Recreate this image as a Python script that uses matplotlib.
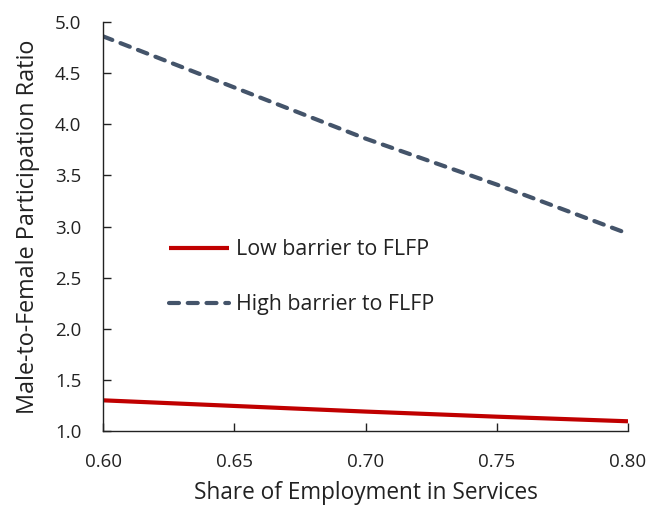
import matplotlib
matplotlib.use("Agg")
import matplotlib.pyplot as plt

share = [0.60, 0.65, 0.70, 0.75, 0.80]
low_barrier = [1.30, 1.245, 1.19, 1.14, 1.095]
high_barrier = [4.86, 4.36, 3.86, 3.41, 2.93]
xticks = [0.60, 0.65, 0.70, 0.75, 0.80]
yticks = [1.0, 1.5, 2.0, 2.5, 3.0, 3.5, 4.0, 4.5, 5.0]

plt.rcParams['font.family'] = ['Open Sans', 'DejaVu Sans']

fig = plt.figure(figsize=(6.47, 5.07), dpi=100)
ax = fig.add_axes([103/647, 76/507, 525/647, 409/507])

ax.plot(share, low_barrier, color='#C00000', lw=3.0, solid_capstyle='butt',
        label='Low barrier to FLFP')
ax.plot(share, high_barrier, color='#44546A', lw=3.0, dashes=(2.4, 2.1),
        dash_capstyle='round', label='High barrier to FLFP')

ax.set_xlim(0.60, 0.80)
ax.set_ylim(1.0, 5.0)
ax.set_xticks(xticks)
ax.set_xticklabels([f"{v:.2f}" for v in xticks])
ax.set_yticks(yticks)
ax.set_yticklabels([f"{v:.1f}" for v in yticks])
ax.tick_params(direction='in', length=6, width=1, labelsize=13.5, colors='#222222')
ax.tick_params(axis='x', pad=16)
ax.tick_params(axis='y', pad=15.5)
for s in ['top', 'right']:
    ax.spines[s].set_visible(False)
for s in ['left', 'bottom']:
    ax.spines[s].set_linewidth(1.0)
    ax.spines[s].set_color('#222222')

ax.set_xlabel('Share of Employment in Services', fontsize=16.3, color='#222222', labelpad=7)
ax.set_ylabel('Male-to-Female Participation Ratio', fontsize=16.8, color='#222222', labelpad=11)

leg = ax.legend(loc='upper left', bbox_to_anchor=(0.11, 0.49), frameon=False,
                fontsize=15.4, handlelength=2.8, handletextpad=0.3, labelspacing=1.6,
                borderaxespad=0)
for t in leg.get_texts():
    t.set_color('#222222')

fig.savefig('out.png', dpi=100)
